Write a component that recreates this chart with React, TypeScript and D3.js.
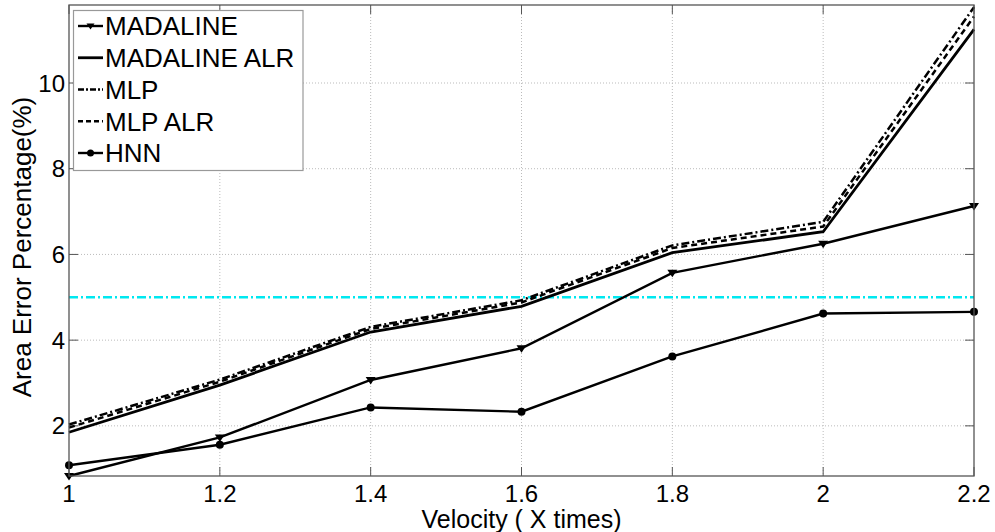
import React from "react";
import * as d3 from "d3";

const velocities = [1, 1.2, 1.4, 1.6, 1.8, 2, 2.2];
const madaline = [0.83, 1.73, 3.07, 3.81, 5.57, 6.25, 7.13];
const madalineAlr = [1.85, 2.95, 4.19, 4.79, 6.04, 6.53, 11.25];
const mlp = [2.03, 3.08, 4.31, 4.93, 6.21, 6.76, 11.77];
const mlpAlr = [1.96, 3.03, 4.26, 4.88, 6.15, 6.65, 11.55];
const hnn = [1.08, 1.56, 2.43, 2.33, 3.62, 4.62, 4.66];
const threshold = 5;
const xTicks = [1, 1.2, 1.4, 1.6, 1.8, 2, 2.2];
const yTicks = [2, 4, 6, 8, 10];
const seriesNames = ["MADALINE", "MADALINE ALR", "MLP", "MLP ALR", "HNN"];

const W = 995, H = 532;
const left = 69, right = 974, top = 5, bottom = 476;
const FONT = "'Liberation Sans', Arial, sans-serif";

export default function App() {
  const x = d3.scaleLinear().domain([1, 2.2]).range([left, right]);
  const y = d3.scaleLinear().domain([0.83, 11.82]).range([bottom, top]);
  const line = d3.line<[number, number]>().x(d => x(d[0])).y(d => y(d[1]));
  const pts = (vals: number[]) => velocities.map((v, i) => [v, vals[i]] as [number, number]);

  const series = [
    { name: seriesNames[0], vals: madaline, dash: "", marker: "tri", w: 2.4 },
    { name: seriesNames[1], vals: madalineAlr, dash: "", marker: "", w: 2.8 },
    { name: seriesNames[2], vals: mlp, dash: "8,3,2,3", marker: "", w: 2.5 },
    { name: seriesNames[3], vals: mlpAlr, dash: "6,4", marker: "", w: 2.5 },
    { name: seriesNames[4], vals: hnn, dash: "", marker: "circ", w: 2.4 },
  ];

  const tri = (cx: number, cy: number, s = 5) =>
    `M${cx - s},${cy - s * 0.6}L${cx + s},${cy - s * 0.6}L${cx},${cy + s * 0.9}Z`;

  const legendRowY = (i: number) => 26 + i * 31.75;

  return (
    <svg width={W} height={H} style={{ position: "absolute", left: 0, top: 0, background: "#fff" }} fontFamily={FONT}>
      <rect x={0} y={0} width={W} height={H} fill="#fff" />
      {/* grid */}
      {xTicks.slice(1, -1).map(t => (
        <line key={"gx" + t} x1={x(t)} x2={x(t)} y1={top} y2={bottom} stroke="#bbb" strokeWidth={1} strokeDasharray="1,2" />
      ))}
      {yTicks.map(t => (
        <line key={"gy" + t} x1={left} x2={right} y1={y(t)} y2={y(t)} stroke="#bbb" strokeWidth={1} strokeDasharray="1,2" />
      ))}
      {/* ticks */}
      {xTicks.map(t => (
        <g key={"tx" + t}>
          <line x1={x(t)} x2={x(t)} y1={bottom} y2={bottom - 9} stroke="#555" />
          <line x1={x(t)} x2={x(t)} y1={top} y2={top + 9} stroke="#555" />
          <text x={x(t)} y={502} textAnchor="middle" fontSize={24} fill="#000">{t}</text>
        </g>
      ))}
      {yTicks.map(t => (
        <g key={"ty" + t}>
          <line x1={left} x2={left + 9} y1={y(t)} y2={y(t)} stroke="#555" />
          <line x1={right} x2={right - 9} y1={y(t)} y2={y(t)} stroke="#555" />
          <text x={65} y={y(t)} dy="0.36em" textAnchor="end" fontSize={24} fill="#000">{t}</text>
        </g>
      ))}
      {/* threshold */}
      <line x1={left} x2={right} y1={y(threshold)} y2={y(threshold)} stroke="#00e8f0" strokeWidth={2.5} strokeDasharray="9,3,2,3" />
      {/* series */}
      {series.map(s => (
        <g key={s.name}>
          <path d={line(pts(s.vals)) || ""} fill="none" stroke="#000" strokeWidth={s.w} strokeDasharray={s.dash || undefined} />
          {s.marker === "tri" && pts(s.vals).map((p, i) => <path key={i} d={tri(x(p[0]), y(p[1]))} fill="#000" />)}
          {s.marker === "circ" && pts(s.vals).map((p, i) => <circle key={i} cx={x(p[0])} cy={y(p[1])} r={4} fill="#000" />)}
        </g>
      ))}
      {/* axes box */}
      <rect x={left} y={top} width={right - left} height={bottom - top} fill="none" stroke="#555" strokeWidth={1.3} />
      {/* legend */}
      <rect x={73.5} y={10.5} width={229.5} height={160} fill="#fff" stroke="#999" strokeWidth={1.2} />
      {series.map((s, i) => {
        const ly = legendRowY(i);
        return (
          <g key={"lg" + s.name}>
            <line x1={78} x2={103} y1={ly} y2={ly} stroke="#000" strokeWidth={s.w} strokeDasharray={s.dash ? (s.dash === "6,4" ? "5,3" : "6,2,2,2") : undefined} />
            {s.marker === "tri" && <path d={tri(90.5, ly, 4)} fill="#000" />}
            {s.marker === "circ" && <circle cx={90.5} cy={ly} r={3.5} fill="#000" />}
            <text x={105} y={ly} dy="0.36em" fontSize={26} fill="#000">{s.name}</text>
          </g>
        );
      })}
      {/* axis labels */}
      <text x={(left + right) / 2} y={528} textAnchor="middle" fontSize={25} fill="#000">Velocity ( X times)</text>
      <text transform={`translate(31,247) rotate(-90)`} textAnchor="middle" fontSize={26} fill="#000">Area Error Percentage(%)</text>
    </svg>
  );
}
